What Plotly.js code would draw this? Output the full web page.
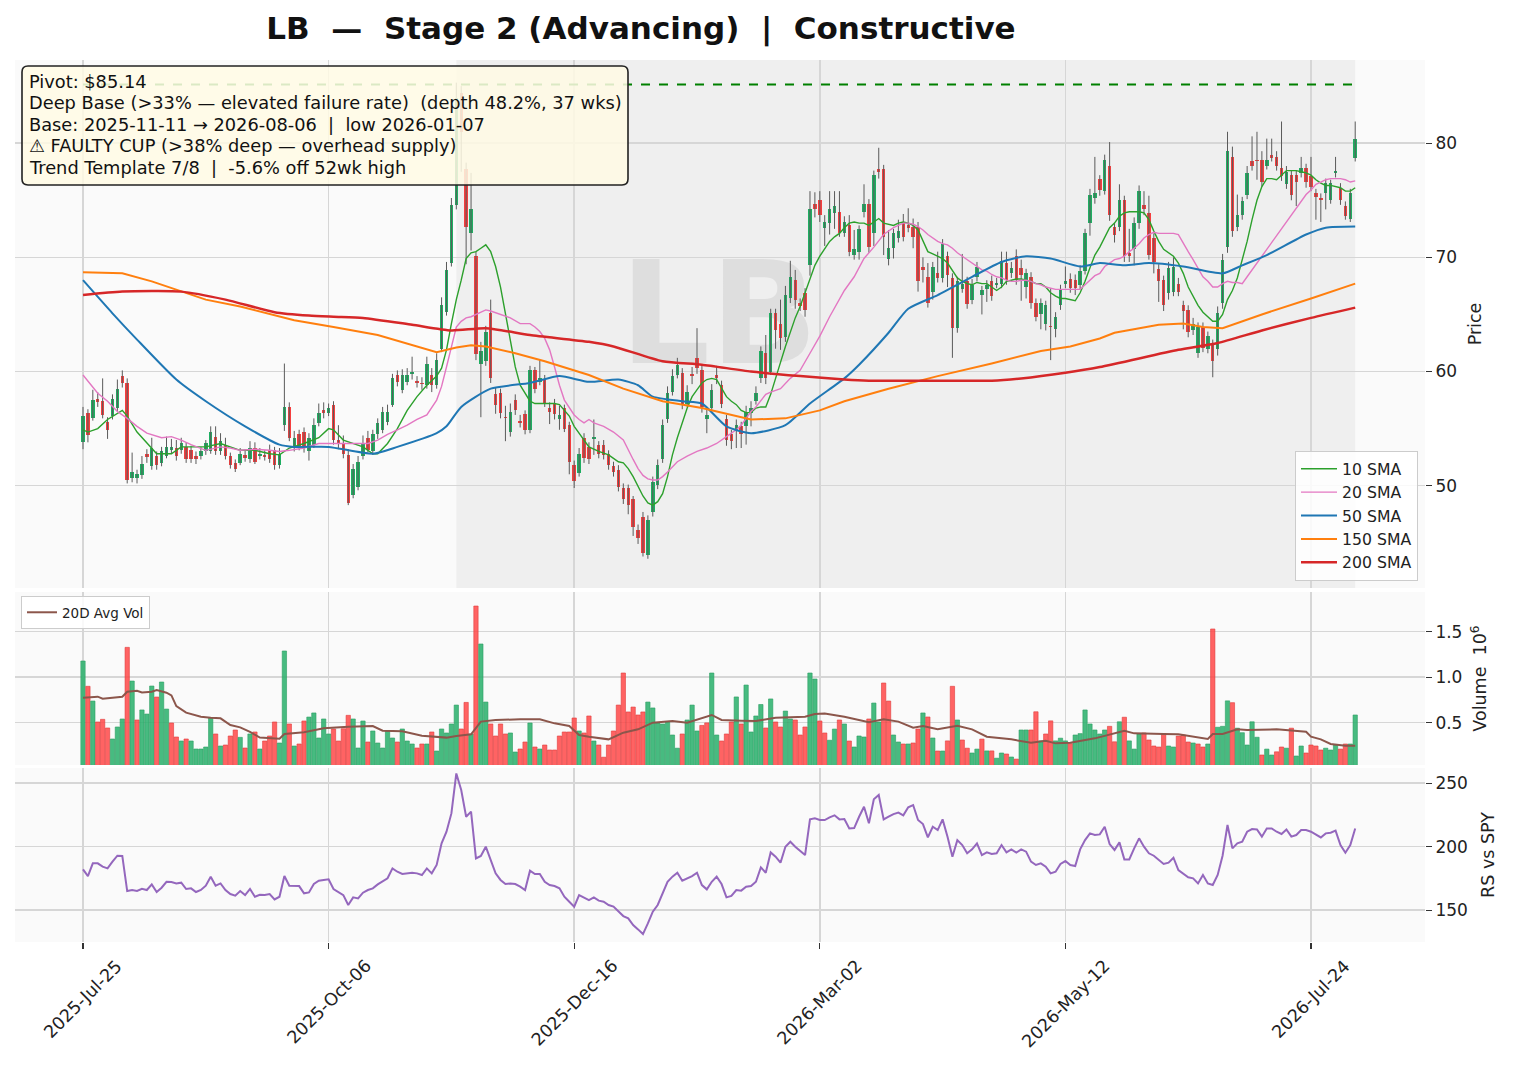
<!DOCTYPE html>
<html><head><meta charset="utf-8">
<script src="https://cdn.plot.ly/plotly-3.0.1.min.js"></script>
<style>html,body{margin:0;padding:0;background:#fff}#chart{width:1516px;height:1072px}</style>
</head><body><div id="chart"></div>
<script>
// ---------------- DATA ----------------
const tickIdx = [0, 50, 100, 150, 200, 250];
const tickLabels = ['2025-Jul-25', '2025-Oct-06', '2025-Dec-16', '2026-Mar-02', '2026-May-12', '2026-Jul-24'];
const symbol = 'LB';
const pivot = 85.14;
const baseStartIdx = 76;   // 2025-11-11
const baseEndIdx = 259;    // 2026-08-06

const opens = [
53.8,56.35,55.9,57.6,57.4,55.6,56.1,56.8,59.6,59.0,
50.7,50.7,50.95,52.8,51.7,52.6,52.0,52.6,53.1,53.3,
53.1,53.4,53.1,52.6,52.6,53.0,53.0,54.3,53.0,53.6,
52.6,52.0,52.0,52.7,52.3,53.3,52.6,52.7,53.1,53.1,
51.8,55.3,56.9,53.3,54.5,54.7,53.0,53.6,55.5,56.6,
56.4,57.1,54.0,53.7,52.7,49.2,49.9,52.6,54.2,53.0,
54.5,54.9,55.6,57.1,59.7,58.4,59.1,59.8,59.1,59.0,
58.8,59.7,58.8,62.0,65.2,69.5,74.6,84.4,77.7,72.1,
70.1,60.7,60.9,65.1,58.0,58.1,56.0,54.7,57.5,55.7,
56.3,54.9,60.1,59.1,59.3,56.8,57.2,55.8,56.8,55.3,
51.8,51.1,54.2,53.4,54.1,53.6,53.6,52.8,51.7,51.4,
49.8,49.8,48.8,46.1,47.3,43.9,47.7,50.1,52.3,55.8,
58.2,59.7,59.9,57.2,59.8,61.2,60.1,55.8,56.8,59.7,
58.8,55.8,54.5,54.9,55.2,55.2,56.4,57.4,59.4,61.6,
60.0,65.1,64.2,63.0,66.4,68.0,66.0,66.9,69.3,74.7,
75.0,72.6,73.0,73.9,74.0,72.1,72.8,70.2,70.5,74.0,
74.7,72.1,77.7,77.7,69.9,70.8,71.7,73.0,72.8,72.7,
72.7,69.2,68.3,67.0,68.6,68.2,70.1,68.2,63.8,67.2,
67.9,66.3,68.3,66.7,67.2,67.9,67.6,67.7,69.5,68.6,
70.1,69.1,67.4,68.3,66.0,65.0,64.2,64.0,63.7,65.8,
67.7,68.1,68.0,67.6,68.8,73.0,75.2,76.9,75.8,78.0,
72.7,72.7,75.0,70.4,70.7,73.0,74.6,73.9,71.7,69.0,
68.0,66.9,67.0,67.7,65.8,65.4,63.6,61.6,63.9,62.0,
62.3,62.0,66.0,70.9,78.8,72.7,73.7,75.5,78.4,78.5,
78.5,78.0,79.0,78.8,77.8,76.4,77.2,77.2,77.4,77.8,
77.1,75.6,75.2,75.6,75.0,77.4,76.1,74.5,73.4,78.7];

const highs = [
56.9,56.7,58.4,58.2,59.4,56.0,58.0,59.3,60.1,59.4,
52.9,51.4,52.6,53.2,54.2,53.0,53.4,54.3,54.1,54.0,
54.2,53.8,53.5,53.0,53.4,54.0,55.2,55.2,54.6,54.2,
52.9,52.3,53.3,53.2,53.9,53.8,53.3,53.1,53.6,53.4,
53.3,60.7,57.3,54.8,54.9,55.1,54.6,55.9,57.2,57.3,
57.2,57.4,55.3,54.4,53.2,51.9,52.6,54.4,54.8,54.9,
55.9,56.9,57.1,59.8,60.1,60.2,60.3,61.3,59.6,59.5,
61.3,60.3,61.6,66.5,69.6,75.2,85.3,85.0,78.3,77.4,
70.5,62.6,64.0,66.3,58.6,58.5,57.0,57.2,58.0,56.2,
56.6,60.5,60.4,61.0,59.7,57.3,57.6,57.0,57.1,55.6,
52.2,53.3,54.6,53.8,55.8,53.9,54.0,53.1,52.1,51.8,
50.2,50.1,49.1,46.6,47.7,47.4,50.8,52.3,55.8,58.7,
60.2,61.2,60.3,58.8,60.4,63.8,60.5,56.9,58.9,60.5,
59.2,56.2,54.9,55.8,55.6,57.0,57.4,58.7,62.2,63.2,
65.5,65.5,66.3,67.5,69.7,68.9,66.4,67.3,75.8,75.7,
75.8,73.7,75.8,75.8,75.8,73.6,73.7,72.4,72.8,76.4,
75.1,77.6,79.6,78.1,72.4,72.5,73.3,73.8,74.3,73.4,
73.1,70.0,69.5,69.6,70.5,71.6,70.5,68.6,68.3,70.3,
68.3,68.1,69.6,67.5,68.0,68.4,68.2,70.5,70.5,69.6,
70.7,69.8,69.0,68.7,66.4,66.4,66.2,67.3,65.2,67.6,
69.2,68.6,68.5,69.3,72.5,76.0,78.8,77.2,79.0,80.1,
73.0,76.4,75.4,72.5,73.5,76.3,75.8,75.4,72.1,69.4,
68.4,69.6,70.0,68.2,66.2,65.8,64.7,64.3,64.3,63.5,
62.8,65.7,70.3,81.0,79.7,75.5,75.3,78.0,80.6,81.0,
79.3,80.4,80.4,79.3,81.9,78.0,77.6,77.6,78.8,78.2,
78.8,76.0,75.6,76.9,76.8,78.8,76.5,74.9,76.0,81.9];

const lows = [
53.2,53.8,55.7,56.9,55.9,54.1,55.8,56.5,58.6,50.2,
50.3,50.2,50.6,52.0,51.4,51.4,51.7,52.4,52.8,52.2,
52.8,52.0,52.0,51.9,52.3,52.7,52.8,52.7,52.7,52.3,
51.5,51.2,51.8,52.1,52.0,51.9,52.3,52.2,52.0,51.4,
51.5,54.8,53.9,53.0,53.1,52.9,52.2,53.3,55.2,55.9,
56.1,53.6,53.2,52.4,48.3,48.9,49.6,52.3,52.9,52.7,
54.1,54.6,55.3,56.9,58.7,58.1,58.8,59.3,58.6,58.4,
58.5,58.2,58.5,61.7,64.9,69.2,74.2,77.5,69.4,70.6,
61.0,56.0,60.5,59.0,56.3,55.9,53.9,54.3,56.2,55.1,
54.5,54.6,58.1,58.8,56.9,55.4,55.8,54.9,54.7,51.0,
49.8,50.8,52.0,51.9,52.7,52.4,52.3,51.4,50.8,49.5,
48.4,47.5,45.6,44.9,43.8,43.6,47.3,49.7,52.0,55.5,
57.9,59.4,56.7,56.9,58.9,59.8,56.4,54.6,56.5,58.9,
56.8,53.5,53.2,53.3,53.3,53.6,55.2,57.1,59.0,58.9,
59.7,62.0,61.9,62.6,66.0,65.5,65.3,64.8,68.4,73.5,
73.1,71.0,72.0,72.5,71.8,71.8,70.1,69.8,69.8,73.5,
70.4,71.0,76.9,70.2,69.3,69.9,71.3,71.4,72.2,70.8,
67.0,67.8,65.6,66.3,67.8,67.8,67.4,61.2,63.4,66.9,
65.5,65.9,67.9,65.0,66.1,66.2,67.3,67.3,67.6,68.2,
67.6,66.2,66.4,65.5,64.4,63.7,63.6,61.0,63.0,65.4,
67.3,66.9,66.7,67.2,68.5,71.9,74.7,75.4,75.5,73.2,
71.3,72.3,69.6,69.6,69.3,72.5,73.7,69.8,68.6,66.1,
65.3,66.3,66.6,66.6,63.7,63.0,63.2,61.2,61.7,61.6,
59.5,61.4,65.5,70.4,71.8,72.3,73.3,75.1,77.6,76.8,
76.2,77.7,78.4,77.6,76.7,76.0,75.0,74.5,77.0,76.1,
75.8,73.3,73.1,74.2,74.7,77.0,74.6,73.3,73.1,78.4];

const closes = [
56.1,54.45,57.5,57.3,56.2,54.9,57.6,58.5,59.0,50.5,
51.2,51.0,51.9,52.5,53.3,51.8,53.0,53.4,53.35,52.6,
53.7,52.3,52.3,52.3,53.0,53.7,54.7,53.0,53.9,52.6,
51.8,51.5,52.8,52.4,53.3,52.1,52.8,52.5,52.3,51.8,
52.8,56.9,54.2,54.2,53.4,53.3,54.2,55.3,56.4,56.4,
56.8,54.0,53.7,52.8,48.5,51.5,52.1,53.7,53.1,54.5,
55.5,56.5,56.5,59.4,59.1,59.7,59.7,59.9,59.0,58.9,
60.7,58.8,61.0,65.8,68.9,74.6,84.0,81.0,72.7,74.2,
61.5,61.8,63.5,59.4,57.1,56.4,55.9,56.5,56.6,55.5,
54.9,60.1,58.5,59.4,57.2,56.5,56.3,56.2,55.0,52.1,
50.4,52.8,52.4,52.3,54.3,52.8,52.7,51.8,51.2,49.9,
48.8,48.3,46.4,45.4,44.1,47.0,50.3,51.8,55.3,58.1,
59.6,60.6,57.1,58.2,59.6,60.3,56.9,56.2,58.4,59.4,
57.2,54.0,53.9,55.3,54.5,56.5,56.8,58.1,61.8,59.4,
65.1,63.6,62.9,66.7,68.3,66.3,65.7,65.4,74.2,74.25,
73.7,73.1,74.2,74.5,72.1,73.1,70.5,70.7,72.5,74.7,
70.9,77.2,77.5,71.8,70.8,72.1,72.3,71.8,72.6,71.8,
67.9,68.9,66.0,69.2,68.2,71.2,68.5,63.8,67.9,67.7,
65.9,67.6,69.2,67.1,67.6,66.6,67.7,69.7,68.0,69.1,
68.0,68.5,68.6,66.0,64.8,66.0,65.8,63.9,64.8,67.1,
67.9,67.3,67.35,68.8,72.1,75.5,75.6,75.9,78.5,73.7,
72.0,75.0,70.1,70.15,73.0,75.8,74.2,70.2,69.6,67.9,
65.8,69.1,69.2,67.0,65.3,63.5,64.2,63.9,62.1,63.1,
60.9,65.1,69.8,79.3,72.3,73.7,74.9,77.4,78.0,78.4,
76.6,78.5,78.7,78.0,77.1,77.5,75.5,76.6,77.8,76.6,
76.2,75.3,75.0,76.5,76.5,77.5,75.0,73.6,75.6,80.4];

// volume in millions
const volumes = [
1.178,0.90,0.738,0.508,0.537,0.442,0.321,0.453,0.541,1.328,
0.958,0.53,0.64,0.595,0.903,0.782,0.947,0.65,0.497,0.343,
0.299,0.321,0.299,0.211,0.211,0.233,0.552,0.376,0.244,0.255,
0.354,0.42,0.339,0.222,0.376,0.398,0.211,0.299,0.354,0.508,
0.277,1.288,0.486,0.244,0.266,0.519,0.562,0.607,0.332,0.541,
0.376,0.431,0.299,0.434,0.581,0.541,0.222,0.519,0.288,0.409,
0.277,0.222,0.409,0.332,0.288,0.431,0.299,0.266,0.222,0.266,
0.266,0.398,0.189,0.431,0.387,0.486,0.694,0.431,0.723,0.376,
1.782,1.365,0.727,0.486,0.354,0.486,0.376,0.387,0.178,0.211,
0.288,0.497,0.233,0.211,0.255,0.2,0.2,0.354,0.398,0.398,
0.552,0.409,0.387,0.574,0.299,0.255,0.121,0.255,0.409,0.694,
1.046,0.618,0.672,0.585,0.618,0.727,0.662,0.497,0.486,0.508,
0.365,0.22,0.376,0.53,0.694,0.409,0.47,0.498,1.046,0.365,
0.299,0.376,0.508,0.783,0.486,0.914,0.398,0.574,0.70,0.442,
0.761,0.508,0.453,0.628,0.541,0.53,0.365,0.453,1.046,0.98,
0.519,0.387,0.307,0.43,0.53,0.486,0.299,0.233,0.354,0.343,
0.541,0.716,0.508,0.936,0.738,0.365,0.288,0.266,0.266,0.277,
0.431,0.607,0.563,0.332,0.189,0.189,0.30,0.90,0.53,0.31,
0.22,0.167,0.21,0.32,0.19,0.19,0.11,0.167,0.156,0.123,
0.10,0.42,0.42,0.42,0.62,0.30,0.376,0.52,0.30,0.33,
0.30,0.27,0.365,0.38,0.64,0.486,0.42,0.376,0.42,0.46,
0.29,0.51,0.56,0.30,0.21,0.376,0.387,0.31,0.244,0.233,
0.376,0.244,0.233,0.354,0.365,0.288,0.277,0.266,0.233,0.266,
1.53,0.45,0.46,0.74,0.72,0.44,0.39,0.255,0.51,0.34,
0.145,0.21,0.145,0.18,0.233,0.22,0.44,0.134,0.244,0.167,
0.255,0.244,0.20,0.22,0.20,0.255,0.21,0.266,0.266,0.585];

const rsVsSpy = [
182.2,176.9,186.9,186.9,184.3,182.9,188.2,192.9,192.7,165.1,
165.9,165.1,166.9,165.9,170.3,164.3,167.7,172.4,172.2,171.1,
171.7,166.7,167.2,164.3,165.9,169.3,176.4,169.3,171.1,165.9,
162.7,161.4,165.1,161.9,166.7,160.6,162.2,161.9,162.7,158.5,
160.6,176.9,169.3,169.3,169.0,163.3,164.0,170.6,173.2,173.8,
174.3,166.7,164.6,161.9,154.1,160.1,159.3,163.8,165.9,167.2,
170.3,173.0,175.1,182.9,180.3,178.5,179.0,179.5,179.0,177.7,
182.9,179.0,185.6,202.6,211.8,226.2,257.7,244.6,223.6,227.6,
190.8,192.7,200.0,189.5,179.0,173.8,170.6,171.1,170.6,168.5,
165.9,181.1,178.5,178.5,172.4,169.8,169.0,167.2,160.6,156.7,
152.8,161.9,160.1,158.0,160.1,157.5,156.7,154.1,152.8,148.8,
145.4,143.6,138.3,134.9,131.2,139.6,148.8,154.1,163.3,172.4,
176.4,179.5,173.2,175.1,176.9,179.5,169.8,166.4,172.4,176.4,
170.6,160.1,161.2,165.9,165.4,168.5,169.0,172.4,183.7,179.5,
195.5,192.1,187.4,200.0,203.9,200.0,196.9,193.4,221.5,222.3,
221.0,221.0,223.1,224.7,221.5,221.8,214.4,214.7,223.6,231.5,
218.4,237.3,240.7,221.5,223.6,225.7,226.8,224.7,231.0,232.8,
221.0,217.8,207.3,215.7,213.1,221.5,207.9,192.1,205.2,201.3,
194.8,197.9,202.6,193.4,195.5,194.2,194.8,201.3,195.5,197.9,
195.3,197.9,196.1,188.2,185.6,186.9,184.3,179.0,180.3,186.4,
188.7,185.6,184.8,197.9,205.2,210.5,209.2,209.7,215.7,202.1,
197.4,203.4,190.0,190.0,198.7,206.6,200.0,194.8,192.9,189.5,
186.4,187.4,191.3,181.6,178.5,175.9,175.1,171.1,177.7,171.1,
169.8,177.7,192.9,217.1,198.7,202.6,203.9,211.8,213.9,213.6,
207.9,214.4,214.4,211.8,210.0,213.6,207.9,209.2,213.1,213.1,
211.8,209.2,207.3,210.5,211.0,212.6,201.3,195.3,201.3,214.4];

// moving averages (bar index, value)
const sma10Idx = [0,1,3,5,8,9,11,13,15,18,20,22,25,28,30,32,35,38,40,42,45,48,50,51,53,55,57,59,60,62,64,66,68,70,72,73,74,75,76,77,78,79,80,81,82,83,84,85,86,87,88,89,90,91,92,94,96,97,98,99,100,101,102,103,105,107,108,109,110,111,112,113,114,115,116,117,118,119,120,121,122,123,124,125,126,127,128,129,130,131,132,133,134,135,136,137,138,139,140,141,142,143,144,145,146,147,148,149,150,151,152,153,154,155,156,157,158,159,160,161,162,163,164,165,166,167,168,169,170,171,172,173,174,175,176,177,178,179,180,181,182,183,184,185,186,187,188,189,190,191,192,193,194,195,196,197,198,199,200,201,202,203,204,205,206,207,208,209,210,211,212,213,214,215,216,217,218,219,220,221,222,223,224,225,226,227,228,229,230,231,232,233,234,235,236,237,238,239,240,241,242,243,244,245,246,247,248,249,250,251,252,253,254,255,256,257,258,259];
const sma10 = [54.9,54.7,55.0,55.8,56.6,56.1,54.7,53.7,52.8,52.8,53.4,53.4,53.4,53.7,53.4,53.1,53.1,52.8,52.7,53.3,53.7,54.2,55.0,54.9,54.0,53.7,53.4,52.8,52.8,53.7,55.0,56.6,57.8,58.8,59.6,60.3,61.9,64.2,66.3,68.0,69.9,70.4,70.5,70.8,71.1,70.5,69.2,67.4,65.1,62.5,60.4,58.8,58.1,57.4,57.2,57.2,57.2,57.1,56.6,56.1,55.2,54.6,53.9,53.4,53.0,52.7,52.4,52.1,52.0,51.5,50.8,49.9,49.1,48.5,48.3,48.6,49.3,50.8,52.7,54.2,55.5,56.8,57.8,58.4,59.0,59.3,59.4,59.3,58.5,57.8,57.4,57.1,56.6,56.4,56.4,56.8,56.9,56.9,58.0,59.3,60.8,62.2,63.5,64.7,65.7,66.9,68.2,69.3,70.1,70.8,71.4,71.8,72.1,72.6,73.0,73.1,73.0,73.0,72.8,73.1,73.4,73.0,72.9,72.8,73.0,73.1,73.0,72.8,72.4,71.5,70.5,70.3,70.1,69.9,69.5,68.8,68.2,67.9,67.7,67.6,67.8,67.7,67.7,67.4,67.1,67.4,67.9,68.0,68.1,68.1,68.0,67.9,67.7,67.7,67.4,66.9,66.6,66.4,66.4,66.3,66.2,66.9,67.9,69.1,70.2,70.9,71.8,72.6,73.0,73.6,73.9,74.0,74.0,74.0,73.9,73.3,72.3,71.4,70.7,70.4,70.1,69.5,68.6,67.4,66.6,65.8,65.2,64.8,64.4,64.4,65.0,66.3,67.1,68.2,69.8,71.4,73.3,75.0,76.2,76.9,76.9,76.8,77.2,77.6,77.6,77.6,77.5,77.4,77.2,76.8,76.5,76.3,76.3,76.2,76.1,75.8,75.8,76.1];

const sma20Idx = [0,3,5,7,9,11,13,16,18,20,22,25,28,30,32,35,38,40,42,45,48,50,51,53,56,58,60,62,64,66,68,70,72,73,74,75,76,77,78,79,80,81,82,83,85,87,89,90,91,92,93,94,95,96,97,98,99,100,101,102,103,104,106,108,110,111,112,113,114,115,116,117,118,119,120,121,123,125,127,129,131,133,134,135,136,137,138,139,140,142,144,146,148,150,152,154,155,157,159,161,163,165,166,167,168,169,170,171,172,173,174,175,176,177,178,179,180,181,182,183,184,185,186,187,188,189,190,191,192,193,194,195,196,197,198,199,200,201,202,203,204,205,206,207,208,209,210,211,212,213,214,215,216,217,218,219,220,221,222,223,224,225,226,227,228,229,230,231,232,233,234,235,236,237,238,239,240,241,242,243,244,245,246,247,248,249,250,251,252,253,254,255,256,257,258,259];
const sma20 = [59.7,58.1,57.4,56.5,55.9,55.2,54.6,54.2,54.3,54.0,53.6,53.1,53.4,53.3,53.1,53.2,53.1,53.0,53.1,53.3,53.7,53.7,53.7,53.7,53.7,53.7,54.0,54.5,54.9,55.3,55.8,56.2,57.5,58.7,60.4,62.2,63.9,64.4,64.7,64.8,65.0,65.2,65.4,65.3,65.0,64.7,64.2,64.2,64.2,63.9,63.5,62.9,61.9,60.4,58.8,57.5,56.8,56.2,55.8,55.5,55.8,55.5,55.2,54.7,54.0,53.1,52.3,51.5,50.9,50.6,50.5,50.5,50.8,51.2,51.7,52.1,52.6,53.0,53.3,53.7,54.3,54.9,55.3,55.9,56.5,56.9,57.5,58.0,58.2,58.5,59.4,60.1,61.6,63.1,64.8,66.4,67.1,68.3,69.9,70.9,72.0,72.6,72.8,73.0,73.0,72.9,72.7,72.4,72.0,71.7,71.4,71.2,71.1,70.8,70.4,70.1,69.8,69.5,69.2,68.9,68.8,68.5,68.3,68.2,68.0,67.9,67.9,68.0,68.0,67.9,67.7,67.6,67.4,67.3,67.2,67.2,67.2,67.2,67.2,67.2,67.6,68.0,68.4,68.6,69.2,69.5,69.8,69.9,70.1,70.5,70.8,71.2,71.7,72.0,72.2,72.1,72.1,72.1,72.1,72.0,71.2,70.5,69.8,69.1,68.3,67.9,67.4,67.4,67.7,67.9,67.8,67.8,67.7,68.3,68.9,69.5,70.1,70.7,71.2,71.8,72.4,73.0,73.6,74.2,74.9,75.5,75.9,76.4,76.6,76.8,76.9,76.9,76.9,76.8,76.6,76.7];

const sma50Idx = [0,6,11,19,25,33,40,43,50,59,64,72,74,77,83,91,97,103,109,113,116,122,126,131,136,143,148,155,158,164,168,174,181,187,192,197,203,207,212,217,224,232,236,241,249,253,259];
const sma50 = [68.0,65.1,62.8,59.3,57.4,55.2,53.6,53.4,53.4,52.8,53.4,54.6,55.2,56.9,58.5,59.0,59.6,59.1,59.3,58.8,57.8,57.4,57.2,55.2,54.6,55.3,57.2,59.4,60.6,63.4,65.5,66.7,68.3,69.6,70.1,69.9,69.2,69.5,69.3,69.5,69.2,68.6,69.3,70.2,72.0,72.6,72.7];

const sma150Idx = [0,8,14,25,32,43,51,60,72,76,79,82,88,94,103,110,118,126,136,143,150,155,164,174,185,195,201,207,210,219,224,228,232,240,250,259];
const sma150 = [68.7,68.6,67.9,66.3,65.7,64.5,63.9,63.2,61.7,62.1,62.3,62.2,61.6,60.9,59.7,58.5,57.4,56.8,55.8,55.9,56.6,57.4,58.5,59.6,60.7,61.8,62.2,62.9,63.4,64.1,64.2,63.9,63.8,65.0,66.4,67.7];

const sma200Idx = [0,8,20,29,39,46,51,57,67,75,82,91,103,108,118,126,136,146,155,160,174,185,191,200,207,223,231,240,250,259];
const sma200 = [66.7,67.0,67.0,66.3,65.2,64.9,64.8,64.7,64.1,63.6,63.8,63.2,62.6,62.2,60.9,60.6,60.0,59.6,59.3,59.2,59.2,59.2,59.4,59.9,60.4,61.9,62.5,63.6,64.7,65.6];

const avgVolIdx = [0,3,4,7,8,9,11,12,14,15,17,18,19,21,24,26,28,30,32,34,36,40,41,45,49,54,59,61,65,69,72,74,76,79,81,84,89,93,96,99,101,103,107,110,113,116,120,123,128,130,134,137,141,147,149,151,155,160,163,166,169,171,174,176,178,181,184,189,193,196,198,201,206,212,214,220,223,229,230,232,235,237,243,249,250,252,254,257,259];
const avgVol = [0.775,0.786,0.764,0.778,0.786,0.84,0.85,0.833,0.84,0.86,0.83,0.80,0.683,0.61,0.566,0.555,0.548,0.475,0.449,0.40,0.336,0.325,0.376,0.394,0.438,0.456,0.464,0.412,0.405,0.357,0.346,0.336,0.354,0.372,0.512,0.53,0.537,0.537,0.493,0.464,0.365,0.346,0.317,0.39,0.427,0.50,0.519,0.50,0.585,0.53,0.522,0.519,0.555,0.566,0.596,0.60,0.566,0.504,0.537,0.512,0.445,0.464,0.427,0.445,0.467,0.427,0.346,0.317,0.28,0.302,0.273,0.28,0.328,0.412,0.383,0.376,0.372,0.321,0.376,0.376,0.427,0.42,0.427,0.40,0.346,0.317,0.266,0.247,0.247];

const infoLines = [
  'Pivot: $85.14',
  'Deep Base (>33% — elevated failure rate)  (depth 48.2%, 37 wks)',
  'Base: 2025-11-11 → 2026-08-06  |  low 2026-01-07',
  '⚠ FAULTY CUP (>38% deep — overhead supply)',
  'Trend Template 7/8  |  -5.6% off 52wk high'
];
const titleText = 'LB  —  Stage 2 (Advancing)  |  Constructive';

// ---------------- STYLE / GEOMETRY ----------------
const W = 1516, H = 1072;
const FONT = 'DejaVu Sans';
const candleUp = '#1fae62', candleDn = '#f53e3e';
const volUp = 'rgba(46,178,110,0.88)', volDn = 'rgba(255,72,72,0.85)';
const gridC = '#d6d6d6';
const nb = s => s.replace(/ /g, '\u00a0');
const px = x => x / W, py = y => 1 - y / H;

const n = closes.length;
const idx = Array.from({length: n}, (_, i) => i);

// pixel geometry of panels
const pxL = 15, pxR = 1425;
const barPx0 = 83, barPx = 4.912;
const xRange = [(pxL - barPx0) / barPx, (pxR - barPx0) / barPx];
const xDom = [px(pxL), px(pxR)];
const yd = (top, bot) => [py(bot), py(top)];
const priceAt = y => 80 - (y - 143.2) / 11.417;
const volAt = y => (768.2 - y) / 91.0;
const rsAt = y => 200 - (y - 846.7) / 1.27;

// wick segments
const wx = [], wy = [];
for (let i = 0; i < n; i++) { wx.push(i, i, null); wy.push(lows[i], highs[i], null); }
const bodyBase = idx.map(i => Math.min(opens[i], closes[i]));
const bodyH = idx.map(i => Math.max(Math.abs(closes[i] - opens[i]), 0.13));
const bodyCol = idx.map(i => closes[i] >= opens[i] ? candleUp : candleDn);
const volCol = idx.map(i => (i === 0 || closes[i] >= closes[i - 1]) ? volUp : volDn);
const volEdge = idx.map(i => (i === 0 || closes[i] >= closes[i - 1]) ? '#2a9d62' : '#e03a3a');

const traces = [
  {type: 'scatter', mode: 'lines', x: wx, y: wy, line: {color: '#5a5a5a', width: 1}, showlegend: false, xaxis: 'x', yaxis: 'y', hoverinfo: 'skip'},
  {type: 'bar', x: idx, base: bodyBase, y: bodyH, width: 0.7, marker: {color: bodyCol, line: {width: 0}}, showlegend: false, xaxis: 'x', yaxis: 'y'},
  {type: 'scatter', mode: 'lines', name: '10 SMA', x: sma10Idx, y: sma10, line: {color: '#2ca02c', width: 1.4}, xaxis: 'x', yaxis: 'y', legend: 'legend'},
  {type: 'scatter', mode: 'lines', name: '20 SMA', x: sma20Idx, y: sma20, line: {color: '#e377c2', width: 1.4}, xaxis: 'x', yaxis: 'y', legend: 'legend'},
  {type: 'scatter', mode: 'lines', name: '50 SMA', x: sma50Idx, y: sma50, line: {color: '#1f77b4', width: 2, shape: 'spline', smoothing: 0.6}, xaxis: 'x', yaxis: 'y', legend: 'legend'},
  {type: 'scatter', mode: 'lines', name: '150 SMA', x: sma150Idx, y: sma150, line: {color: '#ff7f0e', width: 2}, xaxis: 'x', yaxis: 'y', legend: 'legend'},
  {type: 'scatter', mode: 'lines', name: '200 SMA', x: sma200Idx, y: sma200, line: {color: '#d62728', width: 2.5, shape: 'spline', smoothing: 0.6}, xaxis: 'x', yaxis: 'y', legend: 'legend'},
  {type: 'bar', x: idx, y: volumes, width: 0.88, marker: {color: volCol, line: {color: volEdge, width: 0.6}}, showlegend: false, xaxis: 'x2', yaxis: 'y2'},
  {type: 'scatter', mode: 'lines', name: '20D Avg Vol', x: avgVolIdx, y: avgVol, line: {color: '#8c564b', width: 2}, xaxis: 'x2', yaxis: 'y2', legend: 'legend2'},
  {type: 'scatter', mode: 'lines', x: idx, y: rsVsSpy, line: {color: '#9467bd', width: 2}, showlegend: false, xaxis: 'x3', yaxis: 'y3'}
];

const tickFont = {family: FONT, size: 17, color: '#222'};
const xCommon = {range: xRange, domain: xDom, tickmode: 'array', tickvals: tickIdx, showgrid: true, gridcolor: gridC, gridwidth: 1.5, zeroline: false, showline: false};
const yCommon = {side: 'right', showgrid: true, gridcolor: gridC, gridwidth: 1.5, zeroline: false, showline: false, ticks: 'outside', ticklen: 6, tickwidth: 1.3, tickcolor: '#333', tickfont: tickFont, fixedrange: true};

// rounded info box (pixel rectangle -> paper path)
function roundedBox(x0, y0, x1, y1, r) {
  const P = (x, y) => px(x).toFixed(5) + ',' + py(y).toFixed(5);
  return 'M' + P(x0 + r, y0) + ' L' + P(x1 - r, y0) + ' Q' + P(x1, y0) + ' ' + P(x1, y0 + r) +
         ' L' + P(x1, y1 - r) + ' Q' + P(x1, y1) + ' ' + P(x1 - r, y1) +
         ' L' + P(x0 + r, y1) + ' Q' + P(x0, y1) + ' ' + P(x0, y1 - r) +
         ' L' + P(x0, y0 + r) + ' Q' + P(x0, y0) + ' ' + P(x0 + r, y0) + ' Z';
}
const boxPx = {x0: 22, y0: 66, x1: 628, y1: 185};
const lineY = [81, 102.7, 124.3, 145.7, 167.3];

const annotations = infoLines.map((t, k) => ({
  xref: 'paper', yref: 'paper', x: px(27), y: py(lineY[k]), xanchor: 'left', yanchor: 'middle', align: 'left', showarrow: false,
  text: nb(t), font: {family: FONT, size: 17.8, color: '#111'}
}));
tickLabels.forEach((t, k) => annotations.push({
  xref: 'x3', yref: 'paper', x: tickIdx[k], y: py(953), xanchor: 'center', yanchor: 'top', textangle: -45, showarrow: false,
  text: t, font: {family: FONT, size: 17.5, color: '#222'}
}));

const layout = {
  width: W, height: H,
  margin: {l: 0, r: 0, t: 0, b: 0},
  paper_bgcolor: '#ffffff', plot_bgcolor: '#fafafa',
  font: {family: FONT, size: 17, color: '#222'},
  barmode: 'overlay', bargap: 0, hovermode: false,
  title: {text: nb(titleText), xref: 'paper', yref: 'paper', x: px(641), y: py(28), xanchor: 'center', yanchor: 'middle', font: {family: FONT, size: 31, weight: 'bold', color: '#111'}},
  xaxis: Object.assign({}, xCommon, {anchor: 'y', showticklabels: false, ticks: ''}),
  xaxis2: Object.assign({}, xCommon, {anchor: 'y2', matches: 'x', showticklabels: false, ticks: ''}),
  xaxis3: Object.assign({}, xCommon, {anchor: 'y3', matches: 'x', showticklabels: false, ticks: 'outside', ticklen: 6, tickwidth: 1.3, tickcolor: '#333'}),
  yaxis: Object.assign({}, yCommon, {domain: yd(60, 588), range: [priceAt(588), priceAt(60)], tickvals: [50, 60, 70, 80], anchor: 'x', title: {text: 'Price', font: {family: FONT, size: 17.5, color: '#222'}, standoff: 12}}),
  yaxis2: Object.assign({}, yCommon, {domain: yd(592, 765), range: [volAt(765), volAt(592)], tickvals: [0.5, 1.0, 1.5], ticktext: ['0.5', '1.0', '1.5'], anchor: 'x2', title: {text: 'Volume  10<sup>6</sup>', font: {family: FONT, size: 17.5, color: '#222'}, standoff: 12}}),
  yaxis3: Object.assign({}, yCommon, {domain: yd(768, 942), range: [rsAt(942), rsAt(768)], tickvals: [150, 200, 250], anchor: 'x3', title: {text: 'RS vs SPY', font: {family: FONT, size: 17.5, color: '#222'}, standoff: 14}}),
  showlegend: true,
  legend: {x: px(1418), xanchor: 'right', y: py(581), yanchor: 'bottom', bgcolor: 'rgba(255,255,255,0.85)', bordercolor: '#cccccc', borderwidth: 1, font: {family: FONT, size: 15.7, color: '#222'}, itemwidth: 36, tracegroupgap: 0},
  legend2: {x: px(21), xanchor: 'left', y: py(596), yanchor: 'top', bgcolor: 'rgba(255,255,255,0.85)', bordercolor: '#cccccc', borderwidth: 1, font: {family: FONT, size: 13.5, color: '#222'}, itemwidth: 30},
  shapes: [
    {type: 'rect', xref: 'x', yref: 'y domain', x0: baseStartIdx, x1: baseEndIdx, y0: 0, y1: 1, fillcolor: '#efefef', line: {width: 0}, layer: 'below'},
    {type: 'rect', xref: 'x domain', yref: 'y domain', x0: 0, x1: 0.9986, y0: 0.2114, y1: 0.8644, fillcolor: 'rgba(0,0,0,0)', line: {width: 0}, layer: 'below',
     label: {text: symbol, textposition: 'middle center', font: {family: FONT, size: 142, weight: 'bold', color: 'rgba(0,0,0,0.07)'}}},
    {type: 'line', xref: 'x', yref: 'y', x0: 0, x1: n - 1, y0: pivot, y1: pivot, line: {color: '#008000', width: 1.8, dash: 'dash'}, layer: 'above'},
    {type: 'path', xref: 'paper', yref: 'paper', path: roundedBox(boxPx.x0, boxPx.y0, boxPx.x1, boxPx.y1, 6), fillcolor: 'rgba(255,250,228,0.86)', line: {color: '#222', width: 1.6}, layer: 'above'}
  ],
  annotations: annotations
};

Plotly.newPlot('chart', traces, layout, {staticPlot: true, displayModeBar: false});
</script>
</body></html>
